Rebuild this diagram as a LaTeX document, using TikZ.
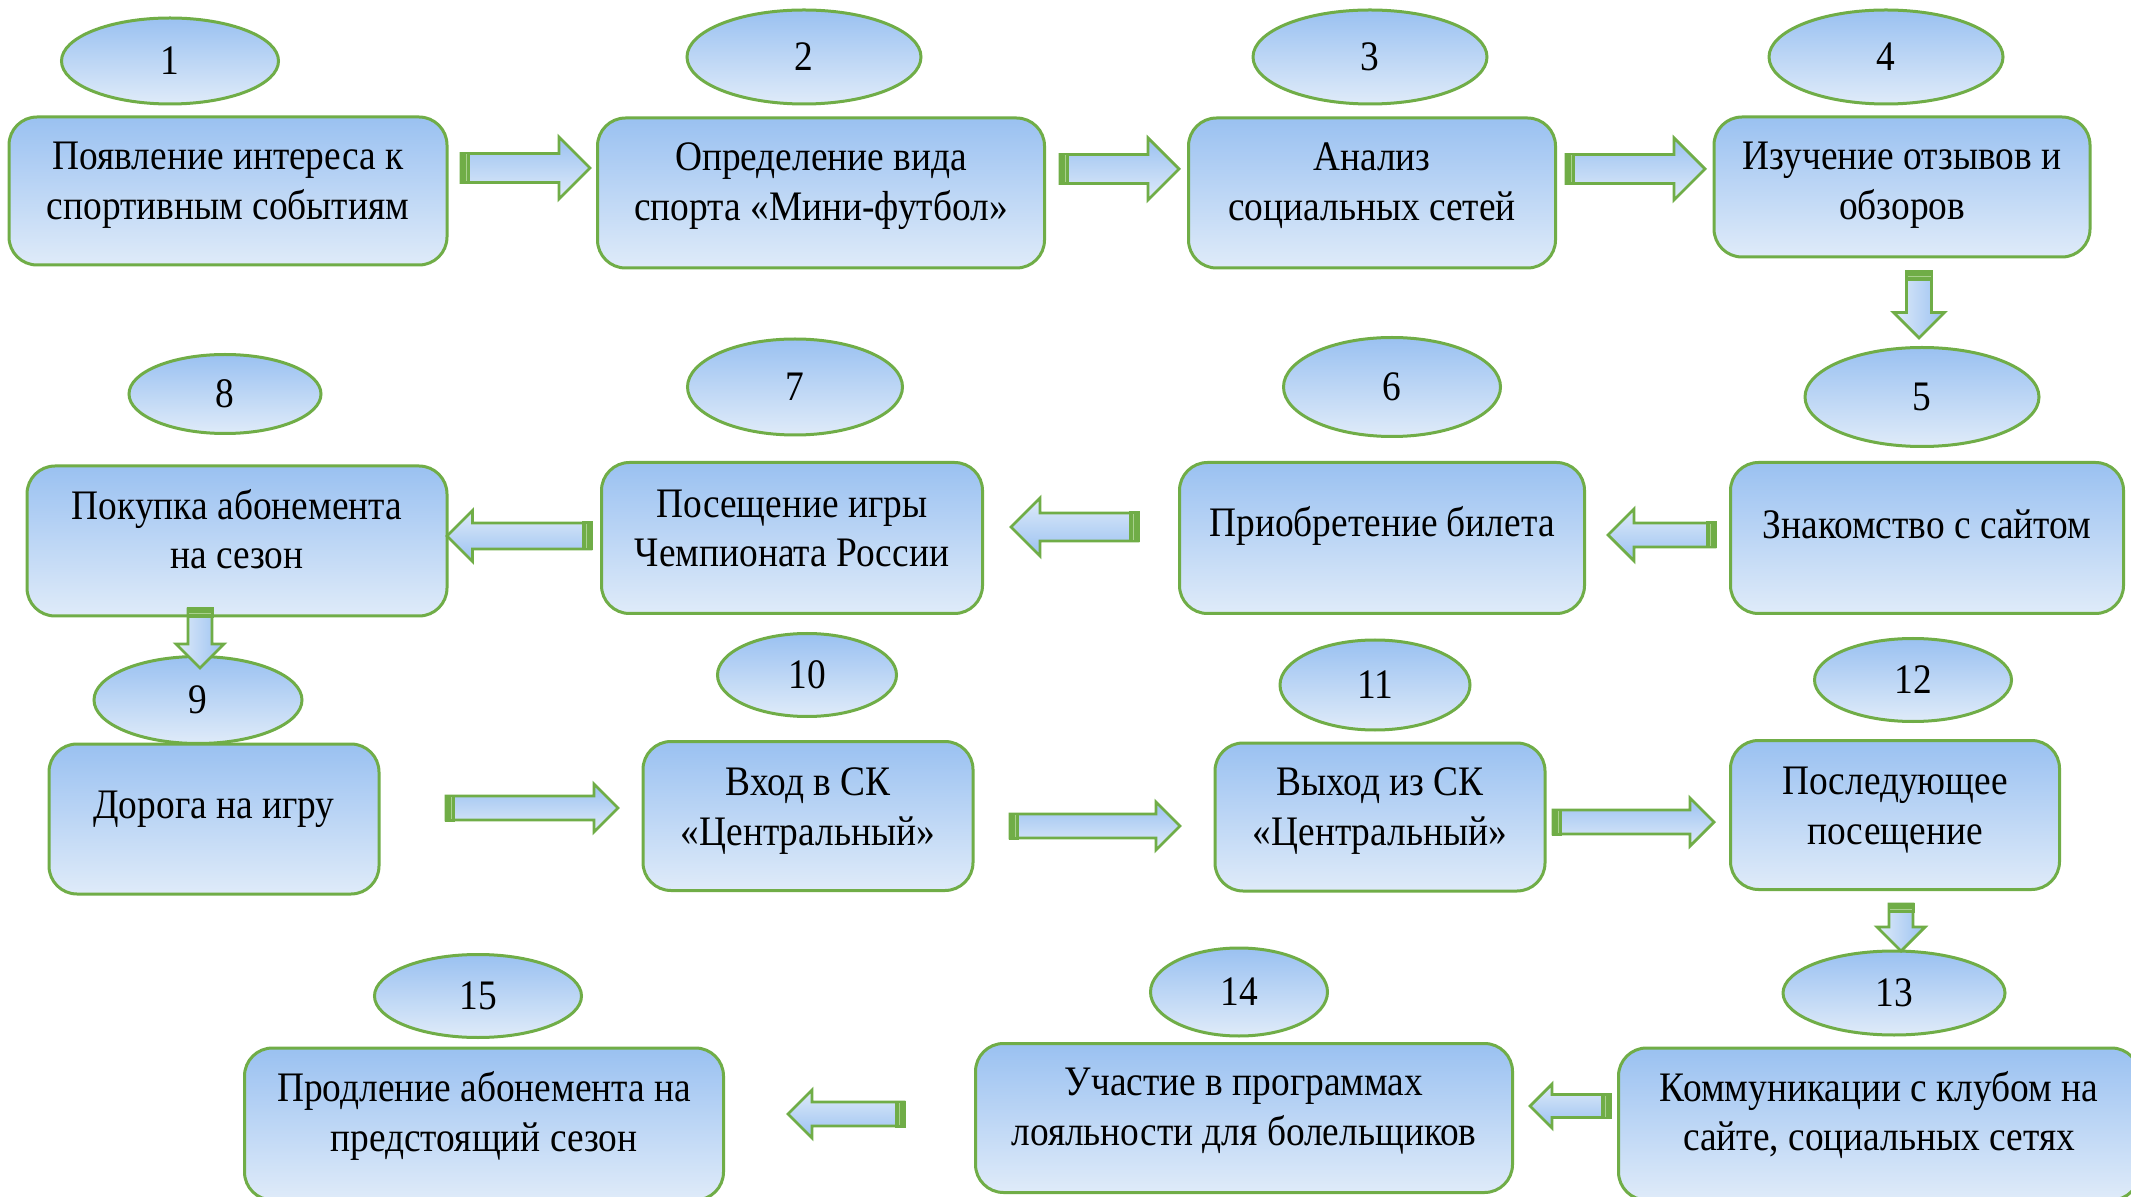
\documentclass[tikz,border=0pt]{standalone}
\usepackage{fontspec}
\setmainfont[FakeStretch=0.89]{Liberation Serif}
\usetikzlibrary{shapes.geometric}
\definecolor{gline}{HTML}{70AD47}
\definecolor{gstripe}{HTML}{A9D18E}
\definecolor{btop}{HTML}{9AC1F1}
\definecolor{bbot}{HTML}{DFEBF9}
\tikzset{
  stagebox/.style={draw=gline, line width=1.5pt, rounded corners=14pt, top color=btop, bottom color=bbot, inner sep=0pt},
  numoval/.style={ellipse, draw=gline, line width=1.5pt, top color=btop, bottom color=bbot, inner sep=0pt, font=\fontsize{21}{24.5}\selectfont},
  stagetxt/.style={align=center, font=\fontsize{21}{24.8}\selectfont, inner sep=0pt},
  blockarr/.style={draw=gline, line width=1.4pt, line join=miter}
}
% right arrow: tail x, tip x, y, shaft half, head half
\newcommand\myrarr[5]{%
  \shade[blockarr, top color=btop, bottom color=bbot] (#1,#3-#4) -- (#2-#5,#3-#4) -- (#2-#5,#3-#5) -- (#2,#3) -- (#2-#5,#3+#5) -- (#2-#5,#3+#4) -- (#1,#3+#4) -- cycle;
  \fill[gline] (#1-1.5,#3-#4-1.5) rectangle (#1+9,#3+#4+1.5);
  \draw[gstripe, line width=0.5pt] (#1+5,#3-#4+1) -- (#1+5,#3+#4-1);
}
% left arrow: tail x (right), tip x (left), y, shaft half, head half
\newcommand\mylarr[5]{%
  \shade[blockarr, top color=bbot, bottom color=btop] (#1,#3-#4) -- (#2+#5,#3-#4) -- (#2+#5,#3-#5) -- (#2,#3) -- (#2+#5,#3+#5) -- (#2+#5,#3+#4) -- (#1,#3+#4) -- cycle;
  \fill[gline] (#1-9,#3-#4-1.5) rectangle (#1+1.5,#3+#4+1.5);
  \draw[gstripe, line width=0.5pt] (#1-5,#3-#4+1) -- (#1-5,#3+#4-1);
}
% down arrow: x, tail y, tip y, shaft half, head half
\newcommand\mydarr[5]{%
  \shade[blockarr, left color=bbot, right color=btop] (#1-#4,#2) -- (#1-#4,#3-#5) -- (#1-#5,#3-#5) -- (#1,#3) -- (#1+#5,#3-#5) -- (#1+#4,#3-#5) -- (#1+#4,#2) -- cycle;
  \fill[gline] (#1-#4-1.5,#2-1.5) rectangle (#1+#4+1.5,#2+9);
  \draw[gstripe, line width=0.5pt] (#1-#4+1,#2+5) -- (#1+#4-1,#2+5);
}
\begin{document}
\begin{tikzpicture}[x=0.5pt, y=-0.5pt]
\useasboundingbox (0,0) rectangle (2131,1197);
\clip (0,0) rectangle (2131,1197);
\fill[white] (0,0) rectangle (2131,1197);

% ---- boxes ----
\node[stagebox, minimum width=219pt, minimum height=74pt] (b1) at (228,191) {};
\node[stagebox, minimum width=223.5pt, minimum height=75pt] (b2) at (821,193) {};
\node[stagebox, minimum width=183.5pt, minimum height=75pt] (b3) at (1372,193) {};
\node[stagebox, minimum width=188pt, minimum height=70pt] (b4) at (1902,187) {};
\node[stagebox, minimum width=196.5pt, minimum height=75.5pt] (b5) at (1927,538) {};
\node[stagebox, minimum width=202.5pt, minimum height=75.5pt] (b6) at (1382,538) {};
\node[stagebox, minimum width=190.5pt, minimum height=75.5pt] (b7) at (792,538) {};
\node[stagebox, minimum width=210pt, minimum height=75pt] (b8) at (237,541) {};
\node[stagebox, minimum width=165pt, minimum height=75pt] (b9) at (214,819) {};
\node[stagebox, minimum width=165pt, minimum height=74.5pt] (b10) at (808,816) {};
\node[stagebox, minimum width=165pt, minimum height=74pt] (b11) at (1380,817) {};
\node[stagebox, minimum width=164.5pt, minimum height=74.5pt] (b12) at (1895,815) {};
\node[stagebox, minimum width=260.5pt, minimum height=76pt] (b13) at (1879,1124) {};
\node[stagebox, minimum width=268.5pt, minimum height=74.5pt] (b14) at (1244,1118) {};
\node[stagebox, minimum width=239.5pt, minimum height=76pt] (b15) at (484,1124) {};

% ---- texts ----
\node[stagetxt] (t1) at ([yshift=3pt]b1.center) {Появление интереса к\\спортивным событиям};
\node[stagetxt] (t2) at ([yshift=3.5pt]b2.center) {Определение вида\\спорта «Мини-футбол»};
\node[stagetxt] (t3) at ([yshift=3.5pt]b3.center) {Анализ\\социальных сетей};
\node[stagetxt] (t4) at ([yshift=1pt]b4.center) {Изучение отзывов и\\обзоров};
\node[stagetxt] (t5) at ([yshift=7pt]b5.center) {Знакомство с сайтом};
\node[stagetxt] (t6) at ([yshift=6pt]b6.center) {Приобретение билета};
\node[stagetxt] (t7) at ([yshift=4.8pt]b7.center) {Посещение игры\\Чемпионата России};
\node[stagetxt] (t8) at ([yshift=6pt]b8.center) {Покупка абонемента\\на сезон};
\node[stagetxt] (t9) at ([yshift=5pt]b9.center) {Дорога на игру};
\node[stagetxt] (t10) at ([yshift=2.5pt]b10.center) {Вход в СК\\«Центральный»};
\node[stagetxt] (t11) at ([yshift=3pt]b11.center) {Выход из СК\\«Центральный»};
\node[stagetxt] (t12) at ([yshift=2.5pt]b12.center) {Последующее\\посещение};
\node[stagetxt] (t13) at ([yshift=4.5pt]b13.center) {Коммуникации с клубом на\\сайте, социальных сетях};
\node[stagetxt] (t14) at ([yshift=3.5pt]b14.center) {Участие в программах\\лояльности для болельщиков};
\node[stagetxt] (t15) at ([yshift=4pt]b15.center) {Продление абонемента на\\предстоящий сезон};

% ---- numbered ovals ----
\node[numoval, minimum width=108.5pt, minimum height=43pt] (e1) at (170,61) {1};
\node[numoval, minimum width=117pt, minimum height=47pt] (e2) at (804,57) {2};
\node[numoval, minimum width=117pt, minimum height=47pt] (e3) at (1370,57) {3};
\node[numoval, minimum width=117pt, minimum height=47pt] (e4) at (1886,57) {4};
\node[numoval, minimum width=117pt, minimum height=49.5pt] (e5) at (1922,397) {5};
\node[numoval, minimum width=108.5pt, minimum height=49.5pt] (e6) at (1392,387) {6};
\node[numoval, minimum width=107.5pt, minimum height=48pt] (e7) at (795,387) {7};
\node[numoval, minimum width=96pt, minimum height=39.5pt] (e8) at (225,394) {8};
\node[numoval, minimum width=104pt, minimum height=43.5pt] (e9) at (198,700) {9};
\node[numoval, minimum width=89.5pt, minimum height=41.5pt] (e10) at (807,675) {10};
\node[numoval, minimum width=95pt, minimum height=45pt] (e11) at (1375,685) {11};
\node[numoval, minimum width=98.5pt, minimum height=41.5pt] (e12) at (1913,680) {12};
\node[numoval, minimum width=111pt, minimum height=42pt] (e13) at (1894,993) {13};
\node[numoval, minimum width=88.5pt, minimum height=44pt] (e14) at (1239,992) {14};
\node[numoval, minimum width=103.5pt, minimum height=41.5pt] (e15) at (478,996) {15};

% ---- block arrows ----
\myrarr{461}{590}{168}{14.5}{31}
\myrarr{1060}{1179}{169}{14.5}{31}
\myrarr{1566}{1705}{169}{14.5}{31}
\mydarr{1919}{272}{338}{12.5}{25.5}
\mylarr{1715}{1608}{535}{12}{26}
\mylarr{1138}{1011}{527}{14}{29}
\mylarr{591}{447}{536}{13}{25.5}
\mydarr{200}{609}{668}{12}{24}
\myrarr{446}{618}{808}{12}{24}
\myrarr{1010}{1180}{826}{12}{24}
\myrarr{1553}{1714}{822}{12}{24}
\mydarr{1901}{904}{951}{12}{24}
\mylarr{1610}{1530}{1106}{11.5}{22}
\mylarr{904}{788}{1114}{12}{24}
\end{tikzpicture}
\end{document}
